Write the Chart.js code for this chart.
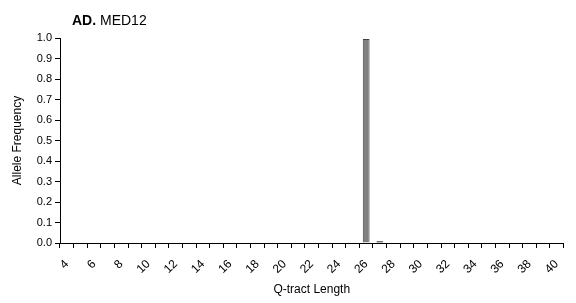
<!DOCTYPE html>
<html>
<head>
<meta charset="utf-8">
<script src="https://cdn.jsdelivr.net/npm/chart.js@4/dist/chart.umd.min.js"></script>
<style>
  body { margin: 0; background: #fff; }
  #wrap { width: 576px; height: 303px; }
</style>
</head>
<body>
<div id="wrap"><canvas id="myChart" width="576" height="303"></canvas></div>
<script>
const lengths = [4, 5, 6, 7, 8, 9, 10, 11, 12, 13, 14, 15, 16, 17, 18, 19, 20, 21, 22,
  23, 24, 25, 26, 27, 28, 29, 30, 31, 32, 33, 34, 35, 36, 37, 38, 39, 40]
const frequency = [0, 0, 0, 0, 0, 0, 0, 0, 0, 0, 0, 0, 0, 0, 0, 0, 0, 0, 0,
  0, 0, 0, 0.995, 0.008, 0, 0, 0, 0, 0, 0, 0, 0, 0, 0, 0, 0, 0]
const yTicks = [0, 0.1, 0.2, 0.3, 0.4, 0.5, 0.6, 0.7, 0.8, 0.9, 1.0]

const font = 'Liberation Sans, Arial, sans-serif'

const titlePlugin = {
  id: 'panelTitle',
  afterDraw(chart) {
    const ctx = chart.ctx
    ctx.save()
    ctx.fillStyle = '#000'
    ctx.textBaseline = 'alphabetic'
    ctx.font = 'bold 14px ' + font
    ctx.fillText('AD.', 72, 25)
    const w = ctx.measureText('AD. ').width
    ctx.font = '14px ' + font
    ctx.fillText('MED12', 72 + w, 25)
    ctx.restore()
  }
}

new Chart(document.getElementById('myChart'), {
  type: 'bar',
  data: {
    labels: lengths,
    datasets: [{
      data: frequency,
      backgroundColor: (c) => c.dataIndex === 23 ? '#000' : '#808080',
      borderColor: (c) => c.dataIndex === 23 ? '#000' : '#404040',
      borderWidth: 1,
      barPercentage: 0.5,
      categoryPercentage: 1
    }]
  },
  options: {
    responsive: false,
    animation: false,
    events: [],
    layout: { padding: { left: 0, right: 11, top: 38, bottom: 6 } },
    plugins: { legend: { display: false }, tooltip: { enabled: false } },
    scales: {
      x: {
        grid: { offset: true, drawOnChartArea: false, tickLength: 5, color: '#000' },
        border: { color: '#000', width: 1 },
        ticks: {
          autoSkip: false,
          maxRotation: 45,
          minRotation: 45,
          color: '#000',
          padding: 9,
          font: { family: font, size: 12 },
          callback: (v, i) => (lengths[i] % 2 === 0 ? lengths[i] : '')
        },
        title: {
          display: true,
          text: 'Q-tract Length',
          color: '#000',
          font: { family: font, size: 12 },
          padding: { top: 4, bottom: 0 }
        },
        afterFit: (scale) => { scale.height = 54 }
      },
      y: {
        min: 0,
        max: 1,
        afterBuildTicks: (scale) => { scale.ticks = yTicks.map(v => ({ value: v })) },
        grid: { drawOnChartArea: false, tickLength: 5, color: '#000' },
        border: { color: '#000', width: 1 },
        ticks: {
          color: '#000',
          padding: 3,
          font: { family: font, size: 11 },
          callback: (v) => v.toFixed(1)
        },
        title: {
          display: true,
          text: 'Allele Frequency',
          color: '#000',
          font: { family: font, size: 12 },
          padding: { top: 10, bottom: 0 }
        },
        afterFit: (scale) => { scale.width = 60 }
      }
    }
  },
  plugins: [titlePlugin]
})
</script>
</body>
</html>
